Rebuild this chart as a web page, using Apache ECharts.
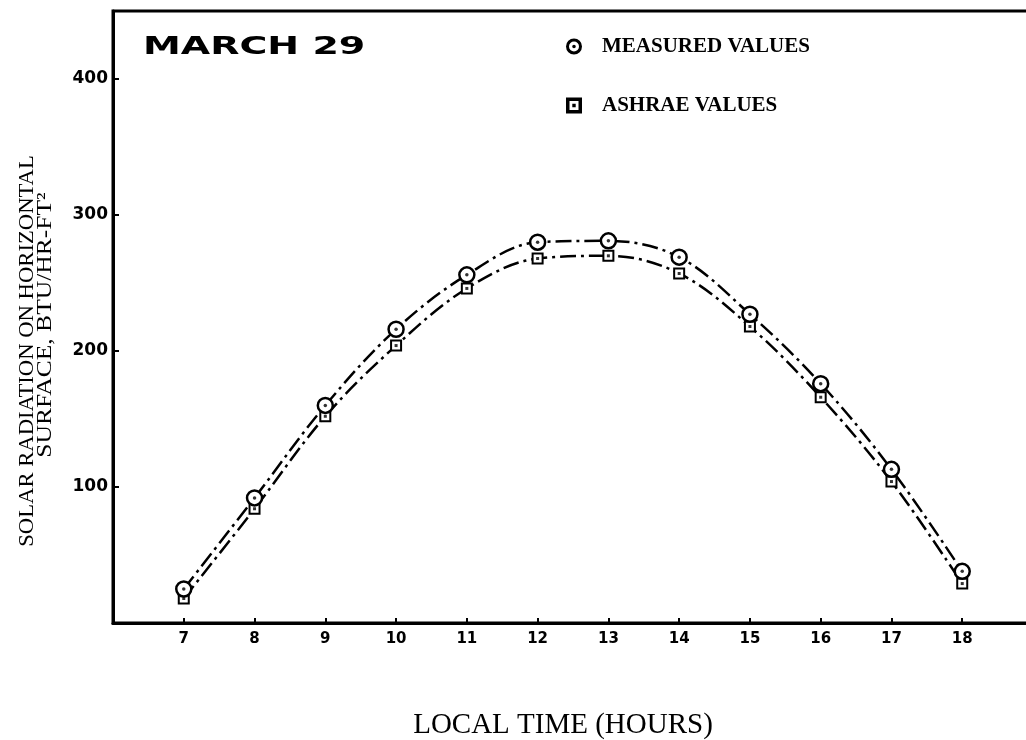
<!DOCTYPE html>
<html>
<head>
<meta charset="utf-8">
<script src="https://cdn.jsdelivr.net/npm/echarts@6/dist/echarts.min.js"></script>
<style>html,body{margin:0;padding:0;background:#fff;}#c{width:1026px;height:740px;}</style>
</head>
<body>
<div id="c"></div>
<script>
// Data
const hours = [7, 8, 9, 10, 11, 12, 13, 14, 15, 16, 17, 18];
const measuredValues = [25, 92, 160, 216, 256, 280, 281, 269, 227, 176, 113, 38];
const ashraeValues = [18, 84, 152, 204, 246, 268, 270, 257, 218, 166, 104, 29];
const yTicks = [100, 200, 300, 400];
const seriesNames = ['MEASURED VALUES', 'ASHRAE VALUES'];
const chartTitle = 'MARCH 29';
const yTitleLines = ['SOLAR RADIATION ON HORIZONTAL', 'SURFACE, BTU/HR-FT\u00B2'];
const xTitle = 'LOCAL TIME (HOURS)';

const pairs = (vals) => hours.map((h, i) => [h, vals[i]]);
const ringIcon = 'path://M8,0A8,8,0,1,1,8,16A8,8,0,1,1,8,0ZM8,3A5,5,0,1,0,8,13A5,5,0,1,0,8,3ZM8,6.2A1.8,1.8,0,1,1,8,9.8A1.8,1.8,0,1,1,8,6.2Z';
const squareIcon = 'path://M0,0H16V16H0ZM3.5,3.5V12.5H12.5V3.5ZM6.3,6.3H9.7V9.7H6.3Z';
const dashDot = [16, 5, 3, 5];

const chart = echarts.init(document.getElementById('c'), null, {renderer: 'canvas'});
chart.setOption({
  animation: false,
  backgroundColor: '#fff',
  grid: {left: 113, top: 11, width: 920, height: 612, containLabel: false, outerBoundsMode: 'none',
    show: true, borderWidth: 3, borderColor: '#000', backgroundColor: 'transparent'},
  xAxis: {
    type: 'value', min: 6, max: 19, interval: 1,
    axisLine: {show: true, onZero: false, lineStyle: {color: '#000', width: 3}},
    axisTick: {show: true, inside: true, length: 5, lineStyle: {color: '#000', width: 2}},
    splitLine: {show: false},
    axisLabel: {
      margin: 9, color: '#000', fontFamily: 'DejaVu Sans', fontWeight: 'bold', fontSize: 15,
      formatter: (v) => (hours.indexOf(v) >= 0 ? String(v) : '')
    }
  },
  yAxis: {
    type: 'value', min: 0, max: 450, interval: 100,
    axisLine: {show: true, onZero: false, lineStyle: {color: '#000', width: 3}},
    axisTick: {show: true, inside: true, length: 6, lineStyle: {color: '#000', width: 2}},
    splitLine: {show: false},
    axisLabel: {
      margin: 5, color: '#000', fontFamily: 'DejaVu Sans', fontWeight: 'bold', fontSize: 17,
      formatter: (v) => (yTicks.indexOf(v) >= 0 ? String(v) : '')
    }
  },
  legend: {
    orient: 'vertical', left: 561, top: 31, itemGap: 38, itemWidth: 16, itemHeight: 16,
    selectedMode: false,
    textStyle: {color: '#000', fontFamily: 'Liberation Serif', fontWeight: 'bold', fontSize: 21, padding: [0, 0, 0, 15]},
    data: [
      {name: seriesNames[0], icon: ringIcon, itemStyle: {color: '#000', borderWidth: 0}},
      {name: seriesNames[1], icon: squareIcon, itemStyle: {color: '#000', borderWidth: 0}}
    ]
  },
  graphic: [
    {type: 'text', x: 143, y: 47, scaleX: 1.52, style: {text: chartTitle, font: 'bold 25px "DejaVu Sans"', fill: '#000', textAlign: 'left', verticalAlign: 'middle', textVerticalAlign: 'middle'}},
    {type: 'text', x: 27, y: 351, rotation: Math.PI / 2, scaleX: 1.03, style: {text: yTitleLines[0], font: '22px "Liberation Serif"', fill: '#000', textAlign: 'center', verticalAlign: 'middle', textVerticalAlign: 'middle'}},
    {type: 'text', x: 45, y: 325, rotation: Math.PI / 2, scaleX: 1.16, style: {text: yTitleLines[1], font: '22px "Liberation Serif"', fill: '#000', textAlign: 'center', verticalAlign: 'middle', textVerticalAlign: 'middle'}},
    {type: 'text', x: 563, y: 725, style: {text: xTitle, font: '29px "Liberation Serif"', fill: '#000', textAlign: 'center', verticalAlign: 'middle', textVerticalAlign: 'middle'}}
  ],
  series: [
    {
      name: seriesNames[1], type: 'line', data: pairs(ashraeValues), smooth: 0.35,
      symbol: 'rect', symbolSize: 10, z: 2,
      itemStyle: {color: '#fff', borderColor: '#000', borderWidth: 2},
      lineStyle: {color: '#000', width: 2.5, type: dashDot}
    },
    {
      name: seriesNames[1] + ' dot', type: 'scatter', data: pairs(ashraeValues), symbol: 'rect', symbolSize: 3, z: 3, silent: true,
      itemStyle: {color: '#000'}
    },
    {
      name: seriesNames[0], type: 'line', data: pairs(measuredValues), smooth: 0.35,
      symbol: 'circle', symbolSize: 15, z: 4,
      itemStyle: {color: '#fff', borderColor: '#000', borderWidth: 2.5},
      lineStyle: {color: '#000', width: 2.5, type: dashDot}
    },
    {
      name: seriesNames[0] + ' dot', type: 'scatter', data: pairs(measuredValues), symbol: 'circle', symbolSize: 3.5, z: 5, silent: true,
      itemStyle: {color: '#000'}
    }
  ]
});
</script>
</body>
</html>
